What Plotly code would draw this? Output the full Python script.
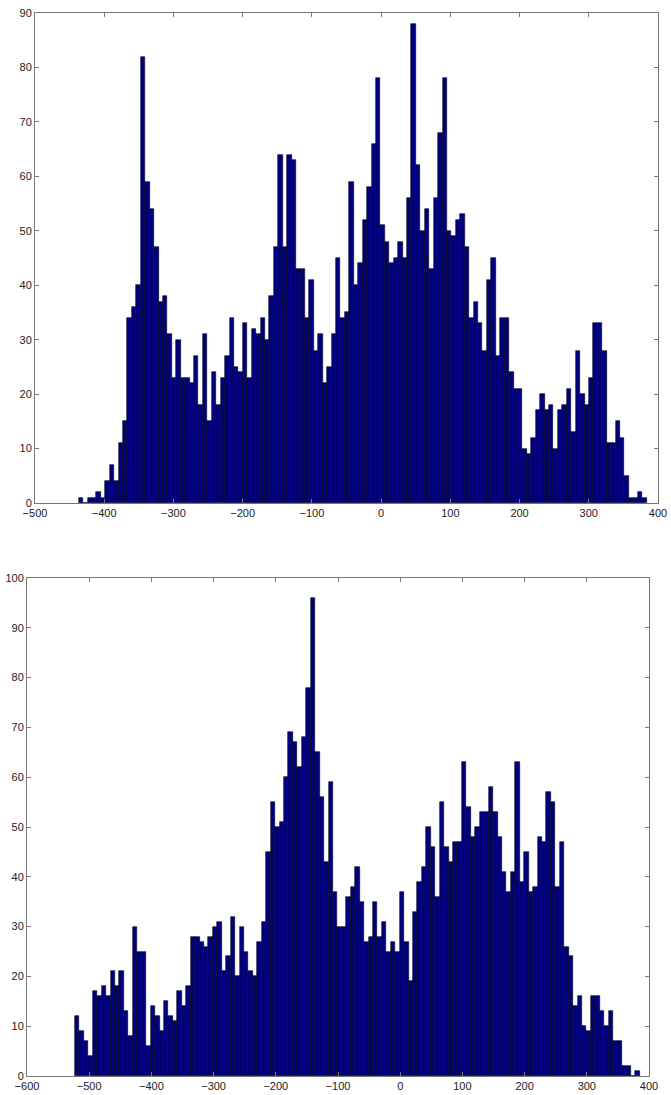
import numpy as np
import plotly.graph_objects as go

# ---------------- data ----------------
top_bin_start = -436.9
top_bin_width = 6.41
top_counts = [1, 0, 1, 1, 2, 1, 4, 7, 4, 11, 15, 34, 36, 40, 82, 59, 54, 47, 37, 38,
              31, 23, 30, 23, 23, 22, 27, 18, 31, 15, 24, 18, 23, 27, 34, 25, 24, 33, 23, 32,
              31, 34, 30, 38, 47, 64, 47, 64, 63, 43, 43, 34, 41, 28, 31, 22, 25, 31, 45, 34,
              35, 59, 40, 44, 52, 58, 66, 78, 51, 48, 44, 45, 48, 45, 56, 88, 62, 50, 54, 43,
              56, 68, 78, 50, 49, 52, 53, 47, 34, 37, 33, 28, 41, 45, 27, 34, 34, 24, 21, 21,
              10, 9, 12, 17, 20, 17, 18, 10, 17, 18, 21, 13, 28, 20, 18, 23, 33, 33, 28, 11,
              11, 15, 12, 5, 1, 1, 2, 1]

bot_bin_start = -522.8
bot_bin_width = 7.15
bot_counts = [12, 9, 7, 4, 17, 16, 18, 16, 21, 18, 21, 13, 8, 30, 25, 25, 6, 14, 12, 9,
              15, 12, 11, 17, 14, 18, 28, 28, 27, 26, 28, 30, 31, 21, 24, 32, 20, 30, 25, 21,
              20, 27, 31, 45, 55, 50, 51, 60, 69, 67, 62, 68, 78, 96, 65, 56, 43, 59, 37, 30,
              30, 36, 38, 42, 35, 27, 28, 35, 28, 31, 25, 27, 25, 37, 27, 19, 33, 39, 42, 50,
              46, 36, 55, 46, 43, 47, 47, 63, 54, 48, 50, 53, 53, 58, 53, 48, 41, 37, 41, 63,
              39, 45, 37, 38, 48, 47, 57, 55, 38, 47, 26, 24, 14, 16, 10, 9, 16, 16, 13, 10,
              13, 7, 7, 2, 2, 0, 1]

top_xticks = [-500, -400, -300, -200, -100, 0, 100, 200, 300, 400]
top_yticks = [0, 10, 20, 30, 40, 50, 60, 70, 80, 90]
bot_xticks = [-600, -500, -400, -300, -200, -100, 0, 100, 200, 300, 400]
bot_yticks = [0, 10, 20, 30, 40, 50, 60, 70, 80, 90, 100]

# ---------------- figure ----------------
W, H = 671, 1095
top_centers = top_bin_start + top_bin_width * (np.arange(len(top_counts)) + 0.5)
bot_centers = bot_bin_start + bot_bin_width * (np.arange(len(bot_counts)) + 0.5)

bar_color = "#00007f"
edge = dict(color="#000018", width=0.6)
fig = go.Figure()
fig.add_trace(go.Bar(x=top_centers, y=top_counts, width=top_bin_width,
                     marker=dict(color=bar_color, line=edge),
                     xaxis="x", yaxis="y", showlegend=False))
fig.add_trace(go.Bar(x=bot_centers, y=bot_counts, width=bot_bin_width,
                     marker=dict(color=bar_color, line=edge),
                     xaxis="x2", yaxis="y2", showlegend=False))

font = dict(family="Liberation Sans, Arial, sans-serif", size=11, color="#222")
axis_common = dict(showgrid=False, zeroline=False, showline=True, linecolor="#777",
                   linewidth=1, mirror="allticks", ticks="inside", ticklen=4,
                   tickcolor="#777", tickfont=font, automargin=False)

fig.update_layout(
    width=W, height=H, margin=dict(l=0, r=0, t=0, b=0),
    paper_bgcolor="white", plot_bgcolor="white", bargap=0,
    xaxis=dict(domain=[35 / W, 658 / W], range=[-500, 400], tickvals=top_xticks,
               anchor="y", **axis_common),
    yaxis=dict(domain=[1 - 503 / H, 1 - 13 / H], range=[0, 90], tickvals=top_yticks,
               anchor="x", **axis_common),
    xaxis2=dict(domain=[27 / W, 649 / W], range=[-600, 400], tickvals=bot_xticks,
                anchor="y2", **axis_common),
    yaxis2=dict(domain=[1 - 1076 / H, 1 - 578 / H], range=[0, 100], tickvals=bot_yticks,
                anchor="x2", **axis_common),
)

fig.write_html("out.html")
